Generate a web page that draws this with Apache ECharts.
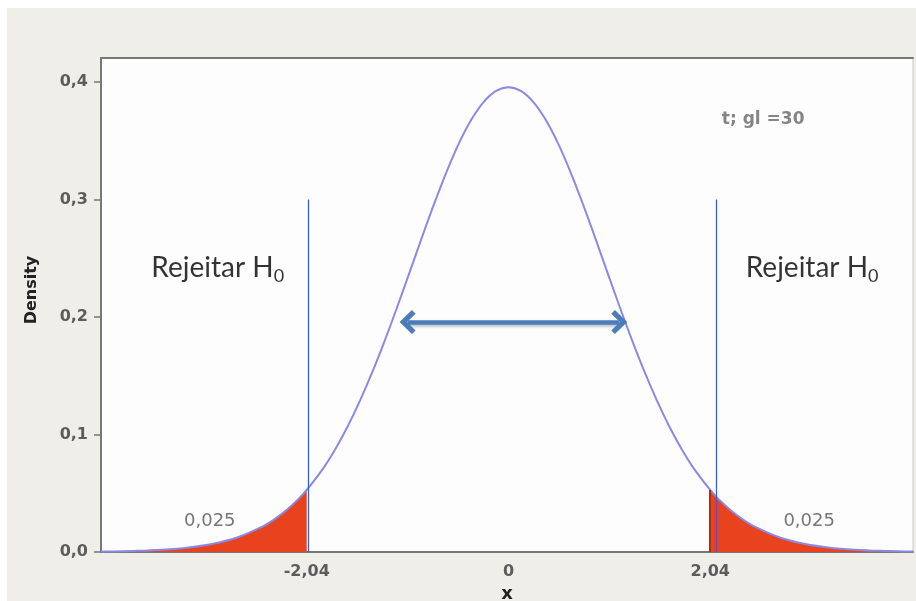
<!DOCTYPE html>
<html>
<head>
<meta charset="utf-8">
<script src="https://cdn.jsdelivr.net/npm/echarts@6/dist/echarts.min.js"></script>
<style>
  html, body { margin: 0; padding: 0; background: #f0eee8; width: 916px; height: 601px; overflow: hidden; }
  #chart { position: absolute; left: 0; top: 0; width: 916px; height: 601px; }
  .strip { position: absolute; background: #ffffff; }
</style>
</head>
<body>
<div id="chart"></div>
<div class="strip" style="left:0;top:0;width:916px;height:8px;"></div>
<div class="strip" style="left:0;top:0;width:7px;height:601px;"></div>
<script>
// ---- data (t distribution, 30 degrees of freedom) ----
const xValues = [-4.12, -4, -3.75, -3.5, -3.25, -3, -2.75, -2.5, -2.375, -2.25, -2.125, -2.04, -1.875, -1.75, -1.625, -1.5, -1.375, -1.25, -1.125, -1, -0.875, -0.75, -0.625, -0.5, -0.375, -0.25, -0.125, 0,
                 0.125, 0.25, 0.375, 0.5, 0.625, 0.75, 0.875, 1, 1.125, 1.25, 1.375, 1.5, 1.625, 1.75, 1.875, 2.04, 2.125, 2.25, 2.375, 2.5, 2.75, 3, 3.25, 3.5, 3.75, 4, 4.09];
const densityValues = [0.0004, 0.0005, 0.0010, 0.0020, 0.0037, 0.0068, 0.0121, 0.0211, 0.0274, 0.0353, 0.0450, 0.0528, 0.0710, 0.0877, 0.1070, 0.1290, 0.1534, 0.1801, 0.2085, 0.2380, 0.2677, 0.2966, 0.3237, 0.3479, 0.3680, 0.3831, 0.3925, 0.3956,
                 0.3925, 0.3831, 0.3680, 0.3479, 0.3237, 0.2966, 0.2677, 0.2380, 0.2085, 0.1801, 0.1534, 0.1290, 0.1070, 0.0877, 0.0710, 0.0528, 0.0450, 0.0353, 0.0274, 0.0211, 0.0121, 0.0068, 0.0037, 0.0020, 0.0010, 0.0005, 0.0004];
const criticalValue = 2.04;
const xTickLabels = [-2.04, 0, 2.04];
const yTickLabels = [0, 0.1, 0.2, 0.3, 0.4];
const tailLabel = '0,025';
const tailLabelPoints = [[-3.02, 0.0264], [3.04, 0.0264]];
const rejectText = 'Rejeitar H';
const rejectTextPoints = [[-2.94, 0.2417], [3.07, 0.2417]];
const rejectLineX = [-2.02, 2.10];
const rejectLineTop = 0.30;
const arrowY = 0.1957;
const arrowX = [-1.02, 1.12];
const distText = 't; gl =30';
const distTextPoint = [2.575, 0.3677];

const curve = xValues.map((x, i) => [x, densityValues[i]]);
const leftTail = curve.filter(p => p[0] <= -criticalValue);
const rightTail = curve.filter(p => p[0] >= criticalValue);
const critDensity = densityValues[xValues.indexOf(criticalValue)];

const fmt = v => (v === 0 ? '0' : String(v).replace('.', ','));
const fmtY = v => v.toFixed(1).replace('.', ',');

const chevron = 'path://M10,0 L20,10 L17,13 L10,6 L3,13 L0,10 Z';

const chart = echarts.init(document.getElementById('chart'), null, { renderer: 'canvas' });
chart.setOption({
  animation: false,
  backgroundColor: 'transparent',
  grid: { left: 101, top: 58, right: 3, bottom: 49, outerBoundsMode: 'none', containLabel: false, show: true, backgroundColor: '#fdfdfd', borderColor: '#c8c8c8', borderWidth: 1 },
  xAxis: [{
    type: 'value', min: -4.12, max: 4.09,
    name: 'x', nameLocation: 'middle', nameGap: 32,
    nameTextStyle: { fontFamily: 'DejaVu Sans', fontWeight: 'bold', fontSize: 18, color: '#222' },
    axisLine: { show: true, onZero: false, lineStyle: { color: '#777', width: 2 } },
    axisTick: { show: false, customValues: xTickLabels },
    axisLabel: { customValues: xTickLabels, formatter: fmt, margin: 12, fontFamily: 'DejaVu Sans', fontWeight: 'bold', fontSize: 16, color: '#5c5c5c' },
    splitLine: { show: false }
  }, {
    type: 'value', position: 'top', min: -4.12, max: 4.09,
    axisLine: { show: true, onZero: false, lineStyle: { color: '#777', width: 2 } },
    axisTick: { show: false }, axisLabel: { show: false }, splitLine: { show: false }
  }],
  yAxis: {
    type: 'value', min: 0, max: 0.4204,
    axisLine: { show: true, onZero: false, lineStyle: { color: '#777', width: 2 } },
    axisTick: { show: true, length: 7, customValues: yTickLabels, lineStyle: { color: '#777', width: 1.5 } },
    axisLabel: { customValues: yTickLabels, formatter: fmtY, margin: 13, fontFamily: 'DejaVu Sans', fontWeight: 'bold', fontSize: 16, color: '#5c5c5c' },
    splitLine: { show: false }
  },
  graphic: [{
    type: 'text', x: 32, y: 290, rotation: Math.PI / 2,
    style: { text: 'Density', fontFamily: 'DejaVu Sans', fontWeight: 'bold', fontSize: 16, fill: '#222', align: 'center', verticalAlign: 'middle' }
  }],
  series: [
    {
      type: 'line', data: leftTail, smooth: 0.3, showSymbol: false, silent: true,
      lineStyle: { width: 0 }, areaStyle: { color: '#e8421e', opacity: 1 }, z: 2
    },
    {
      type: 'line', data: rightTail, smooth: 0.3, showSymbol: false, silent: true,
      lineStyle: { width: 0 }, areaStyle: { color: '#e8421e', opacity: 1 }, z: 2,
      markLine: {
        silent: true, symbol: 'none', label: { show: false },
        lineStyle: { color: '#a83018', width: 2, type: 'solid' },
        data: [[{ coord: [criticalValue, 0] }, { coord: [criticalValue, critDensity] }]]
      }
    },
    {
      type: 'line', data: curve, smooth: 0.3, showSymbol: false, silent: true,
      lineStyle: { color: '#8a8ae4', width: 2 }, z: 3
    },
    {
      type: 'line', data: [], z: 5, silent: true,
      markLine: {
        silent: true, symbol: 'none', label: { show: false },
        lineStyle: { color: '#2a5cff', width: 1.3, type: 'solid' },
        data: rejectLineX.map(x => [{ coord: [x, 0] }, { coord: [x, rejectLineTop] }])
      }
    },
    {
      type: 'line', data: [], z: 6, silent: true,
      markLine: {
        silent: true, symbol: [chevron, chevron], symbolSize: [24, 16], label: { show: false },
        lineStyle: { color: '#4a7ebb', width: 4.5, type: 'solid', opacity: 1, shadowColor: 'rgba(0,0,0,0.25)', shadowBlur: 3, shadowOffsetY: 2 },
        itemStyle: { color: '#4a7ebb' },
        data: [[{ coord: [arrowX[0], arrowY] }, { coord: [arrowX[1], arrowY] }]]
      }
    },
    {
      type: 'scatter', symbolSize: 0, silent: true, z: 7,
      data: tailLabelPoints,
      label: { show: true, position: 'inside', formatter: tailLabel, fontFamily: 'DejaVu Sans', fontSize: 18, color: '#555' }
    },
    {
      type: 'scatter', symbolSize: 0, silent: true, z: 7,
      data: [distTextPoint],
      label: { show: true, position: 'inside', formatter: distText, fontFamily: 'DejaVu Sans', fontWeight: 'bold', fontSize: 17, color: '#666' }
    },
    {
      type: 'scatter', symbolSize: 0, silent: true, z: 7,
      data: rejectTextPoints,
      label: {
        show: true, position: 'inside',
        formatter: '{a|' + rejectText + '}{b|0}',
        rich: {
          a: { fontFamily: 'Lato', fontSize: 28, color: '#000', lineHeight: 34 },
          b: { fontFamily: 'Lato', fontSize: 18, color: '#000', lineHeight: 16, verticalAlign: 'bottom' }
        }
      }
    }
  ]
});
</script>
</body>
</html>
